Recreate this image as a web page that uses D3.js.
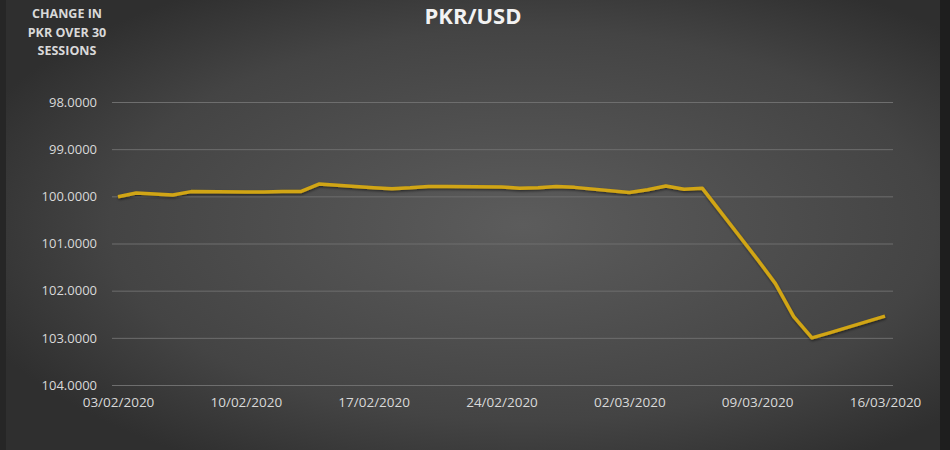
<!DOCTYPE html>
<html>
<head>
<meta charset="utf-8">
<script src="https://cdn.jsdelivr.net/npm/d3@7"></script>
<style>
  body { margin: 0; background: #2b2b2b; }
  text { font-family: "Open Sans", "DejaVu Sans", sans-serif; }
</style>
</head>
<body>
<script>
// 30 sessions, PKR per USD (index)
var dates = ["03/02/2020","04/02/2020","06/02/2020","07/02/2020","10/02/2020","11/02/2020",
  "12/02/2020","13/02/2020","14/02/2020","17/02/2020","18/02/2020","19/02/2020","20/02/2020",
  "21/02/2020","24/02/2020","25/02/2020","26/02/2020","27/02/2020","28/02/2020","02/03/2020",
  "03/03/2020","04/03/2020","05/03/2020","06/03/2020","09/03/2020","10/03/2020","11/03/2020",
  "12/03/2020","13/03/2020","16/03/2020"];
var rates = [100.01, 99.93, 99.97, 99.90, 99.91, 99.91,
  99.90, 99.90, 99.74, 99.82, 99.84, 99.82, 99.79,
  99.79, 99.80, 99.83, 99.82, 99.79, 99.81, 99.92,
  99.86, 99.78, 99.85, 99.83, 101.33, 101.85, 102.55,
  103.00, 102.89, 102.54];
var yTicks = [98, 99, 100, 101, 102, 103, 104];
var xTicks = ["03/02/2020","10/02/2020","17/02/2020","24/02/2020","02/03/2020","09/03/2020","16/03/2020"];

var W = 950, H = 450;
var parse = d3.timeParse("%d/%m/%Y");
var fmt = d3.timeFormat("%d/%m/%Y");

var data = dates.map(function(d, i) { return { date: parse(d), v: rates[i] }; });

var svg = d3.select("body").append("svg")
    .attr("width", W)
    .attr("height", H);

var defs = svg.append("defs");
var grad = defs.append("radialGradient")
    .attr("id", "bg")
    .attr("cx", "55%").attr("cy", "50%").attr("r", "62%");
grad.append("stop").attr("offset", "0%").attr("stop-color", "#5c5c5c");
grad.append("stop").attr("offset", "70%").attr("stop-color", "#444444");
grad.append("stop").attr("offset", "100%").attr("stop-color", "#2f2f2f");

var shadow = defs.append("filter").attr("id", "shadow")
    .attr("x", "-5%").attr("y", "-5%").attr("width", "110%").attr("height", "120%");
shadow.append("feDropShadow")
    .attr("dx", 0.5).attr("dy", 1.5).attr("stdDeviation", 1)
    .attr("flood-color", "#000").attr("flood-opacity", 0.5);

svg.append("rect").attr("width", W).attr("height", H).attr("fill", "url(#bg)");
// dark frame on the left and right edges
svg.append("rect").attr("x", 0).attr("y", 0).attr("width", 6).attr("height", H).attr("fill", "#262626");
svg.append("rect").attr("x", 940).attr("y", 0).attr("width", 10).attr("height", H).attr("fill", "#1e1e1e");

var x = d3.scaleTime()
    .domain([parse("03/02/2020"), parse("16/03/2020")])
    .range([118, 885]);

var y = d3.scaleLinear()
    .domain([98, 104])
    .range([102, 385]);

// gridlines
svg.append("g")
  .selectAll("line")
    .data(yTicks)
  .enter().append("line")
    .attr("x1", 112)
    .attr("x2", 893)
    .attr("y1", function(d) { return y(d) + 0.5; })
    .attr("y2", function(d) { return y(d) + 0.5; })
    .attr("stroke", "#6e6e6e")
    .attr("stroke-width", 1);

// y axis
var yAxis = d3.axisLeft(y)
    .tickValues(yTicks)
    .tickFormat(d3.format(".4f"))
    .tickSize(0)
    .tickPadding(0);

var gy = svg.append("g")
    .attr("transform", "translate(97,0)")
    .call(yAxis);
gy.select(".domain").remove();
gy.selectAll("text")
    .attr("fill", "#d9d9d9")
    .style("font-size", "13px");

// x axis
var xAxis = d3.axisBottom(x)
    .tickValues(xTicks.map(parse))
    .tickFormat(fmt)
    .tickSize(0)
    .tickPadding(0);

var gx = svg.append("g")
    .attr("transform", "translate(0,397)")
    .call(xAxis);
gx.select(".domain").remove();
gx.selectAll("text")
    .attr("fill", "#d9d9d9")
    .style("font-size", "13.5px");

// line
var line = d3.line()
    .x(function(d) { return x(d.date); })
    .y(function(d) { return y(d.v); });

svg.append("path")
    .datum(data)
    .attr("d", line)
    .attr("fill", "none")
    .attr("stroke", "#d1a512")
    .attr("stroke-width", 3.5)
    .attr("stroke-linejoin", "round")
    .attr("filter", "url(#shadow)");

// title
svg.append("text")
    .attr("x", 473)
    .attr("y", 24)
    .attr("text-anchor", "middle")
    .attr("fill", "#f2f2f2")
    .style("font-size", "22px")
    .style("font-weight", "bold")
    .text("PKR/USD");

// y axis title
var yTitle = ["CHANGE IN", "PKR OVER 30", "SESSIONS"];
svg.append("g")
  .selectAll("text")
    .data(yTitle)
  .enter().append("text")
    .attr("x", 67)
    .attr("y", function(d, i) { return 18 + i * 18.5; })
    .attr("text-anchor", "middle")
    .attr("fill", "#d9d9d9")
    .style("font-size", "12.5px")
    .style("font-weight", "bold")
    .text(function(d) { return d; });
</script>
</body>
</html>
